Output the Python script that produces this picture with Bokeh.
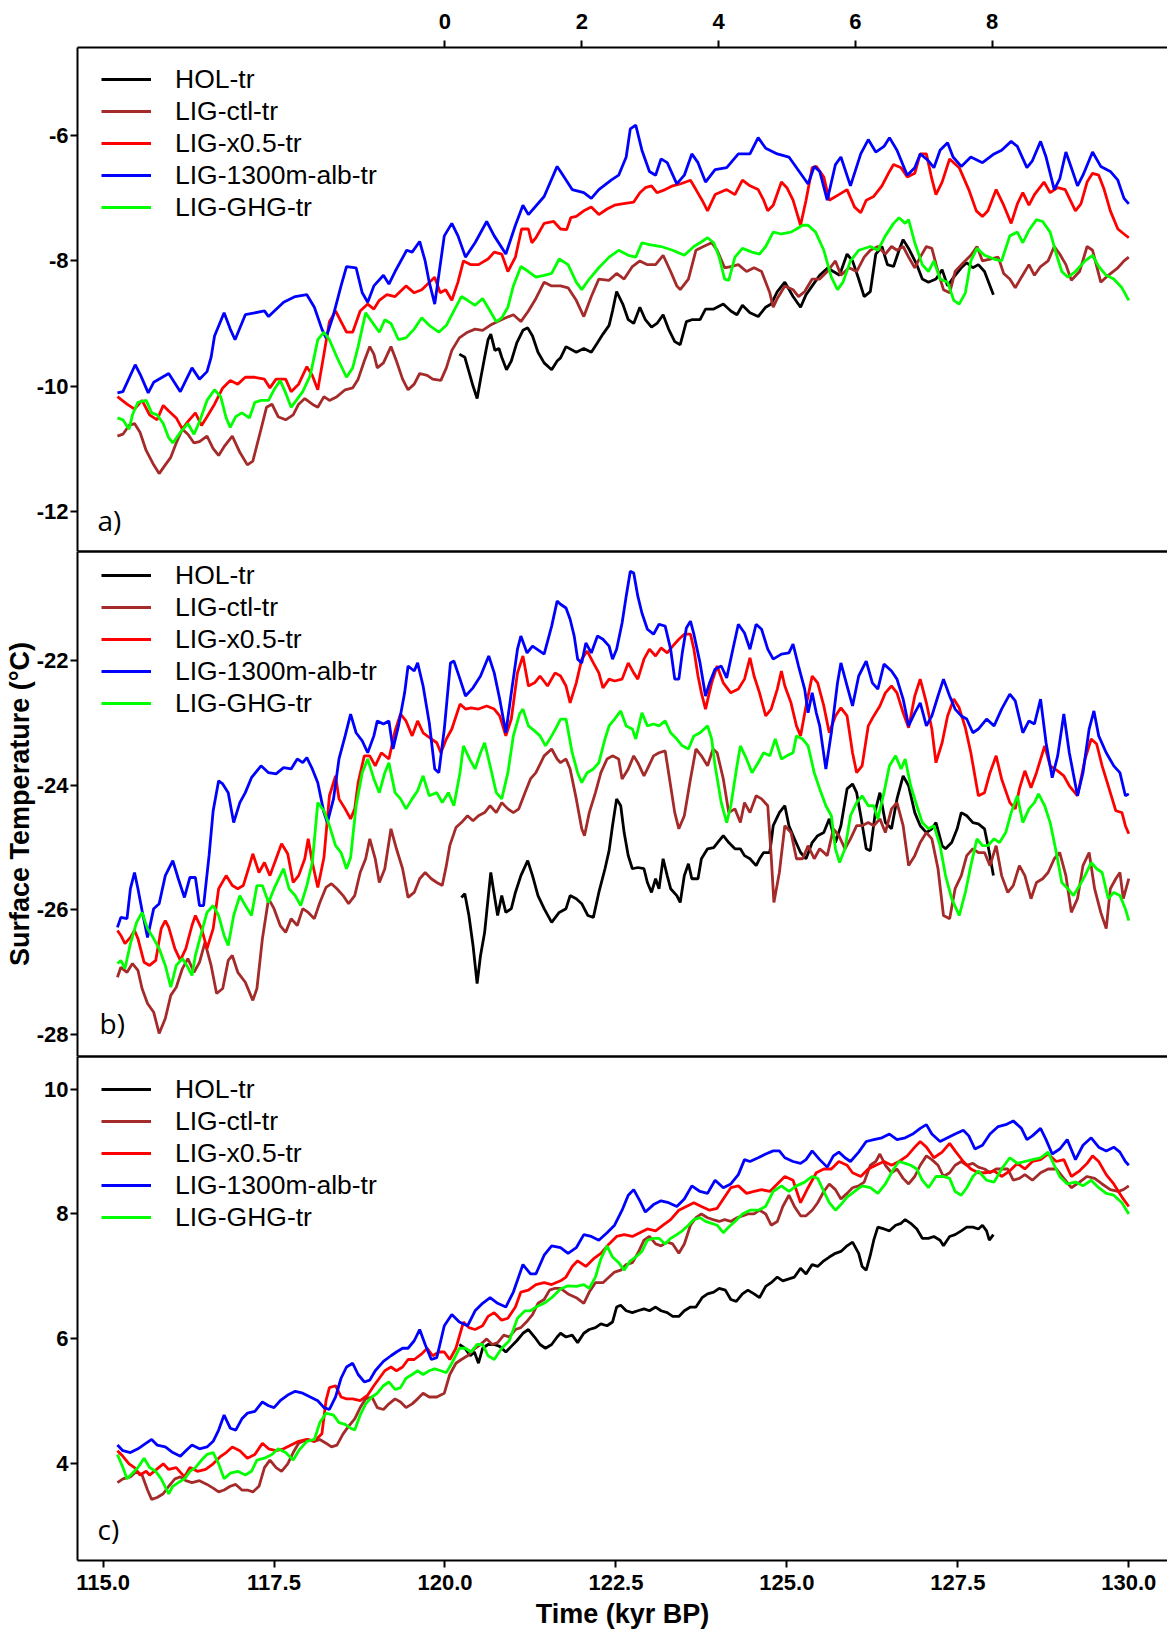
from bokeh.plotting import figure
from bokeh.models import (Range1d, LinearAxis, FixedTicker, PrintfTickFormatter,
                          Legend, LegendItem, Label, Grid)
from bokeh.layouts import column
from bokeh.embed import file_html
from bokeh.resources import INLINE

# ---------------- labels / ticks ----------------
series_names = ["HOL-tr", "LIG-ctl-tr", "LIG-x0.5-tr", "LIG-1300m-alb-tr", "LIG-GHG-tr"]
series_colors = ["#000000", "#a52a2a", "#ff0000", "#0000ff", "#00ff00"]
x_ticks = [115.0, 117.5, 120.0, 122.5, 125.0, 127.5, 130.0]
hol_ticks = [0, 2, 4, 6, 8]
HOL_OFFSET = 120.0   # top (HOL) time axis = LIG time - 120 kyr
a_yticks = [-12, -10, -8, -6]
b_yticks = [-28, -26, -24, -22]
c_yticks = [4, 6, 8, 10]
x_title = "Time (kyr BP)"
y_title = "Surface Temperature (°C)"

# ---------------- panel a ----------------
a_hol = [(0.21,-9.49),(0.29,-9.54),(0.35,-9.77),(0.41,-10.00),(0.47,-10.20),(0.52,-9.89),(0.58,-9.54),(0.63,-9.26),(0.67,-9.17),(0.73,-9.43),(0.79,-9.40),(0.83,-9.54),(0.90,-9.74),(0.97,-9.60),(1.05,-9.31),(1.14,-9.11),(1.21,-9.07),(1.28,-9.20),(1.36,-9.46),(1.45,-9.63),(1.56,-9.74),(1.64,-9.60),(1.69,-9.55),(1.77,-9.37),(1.92,-9.46),(2.03,-9.40),(2.14,-9.46),(2.23,-9.31),(2.31,-9.17),(2.40,-9.03),(2.45,-8.80),(2.51,-8.49),(2.60,-8.69),(2.68,-8.94),(2.76,-9.00),(2.85,-8.74),(2.93,-8.94),(3.02,-9.06),(3.10,-9.00),(3.19,-8.86),(3.27,-9.09),(3.36,-9.29),(3.44,-9.34),(3.53,-8.97),(3.61,-8.94),(3.73,-8.94),(3.81,-8.77),(3.93,-8.77),(4.07,-8.69),(4.18,-8.80),(4.27,-8.86),(4.35,-8.71),(4.46,-8.83),(4.58,-8.89),(4.69,-8.74),(4.77,-8.69),(4.86,-8.49),(4.97,-8.34),(5.09,-8.57),(5.20,-8.74),(5.28,-8.54),(5.37,-8.40),(5.48,-8.23),(5.60,-8.11),(5.68,-8.17),(5.77,-8.23),(5.88,-7.89),(5.96,-8.00),(6.05,-8.29),(6.13,-8.57),(6.22,-8.49),(6.30,-7.89),(6.39,-7.77),(6.47,-8.06),(6.56,-8.09),(6.64,-7.83),(6.70,-7.66),(6.78,-7.80),(6.90,-8.06),(6.98,-8.29),(7.07,-8.34),(7.18,-8.29),(7.27,-8.14),(7.35,-8.40),(7.44,-8.26),(7.55,-8.11),(7.63,-8.03),(7.72,-8.11),(7.80,-8.06),(7.89,-8.17),(7.95,-8.34),(8.02,-8.54)]

a_ctl = [(115.21,-10.80),(115.29,-10.77),(115.38,-10.63),(115.46,-10.60),(115.54,-10.74),(115.63,-11.03),(115.74,-11.26),(115.82,-11.40),(115.91,-11.26),(115.99,-11.14),(116.07,-10.91),(116.16,-10.69),(116.24,-10.77),(116.33,-10.91),(116.41,-10.89),(116.52,-10.80),(116.61,-11.00),(116.69,-11.11),(116.77,-10.97),(116.89,-10.80),(117.00,-11.06),(117.11,-11.26),(117.19,-11.20),(117.31,-10.69),(117.39,-10.34),(117.47,-10.29),(117.56,-10.49),(117.67,-10.54),(117.78,-10.46),(117.86,-10.29),(117.95,-10.20),(118.06,-10.29),(118.14,-10.34),(118.23,-10.17),(118.31,-10.23),(118.42,-10.17),(118.54,-10.06),(118.65,-10.03),(118.73,-9.89),(118.82,-9.60),(118.90,-9.37),(118.96,-9.49),(119.01,-9.71),(119.10,-9.63),(119.21,-9.37),(119.29,-9.60),(119.38,-9.89),(119.46,-10.06),(119.55,-9.97),(119.63,-9.80),(119.74,-9.83),(119.82,-9.89),(119.94,-9.91),(120.02,-9.71),(120.10,-9.43),(120.21,-9.23),(120.33,-9.14),(120.44,-9.09),(120.55,-9.11),(120.66,-9.03),(120.77,-8.97),(120.89,-8.91),(121.00,-8.86),(121.11,-8.97),(121.22,-8.80),(121.33,-8.60),(121.45,-8.34),(121.56,-8.40),(121.69,-8.40),(121.80,-8.43),(121.92,-8.63),(122.03,-8.89),(122.14,-8.57),(122.25,-8.29),(122.40,-8.31),(122.51,-8.20),(122.62,-8.29),(122.74,-8.09),(122.85,-8.00),(122.96,-8.06),(123.08,-8.06),(123.19,-7.91),(123.30,-8.17),(123.39,-8.40),(123.44,-8.46),(123.56,-8.29),(123.67,-7.83),(123.78,-7.77),(123.90,-7.71),(123.98,-7.83),(124.09,-8.11),(124.18,-8.09),(124.29,-8.06),(124.41,-8.17),(124.52,-8.11),(124.63,-8.17),(124.75,-8.51),(124.80,-8.74),(124.86,-8.60),(124.97,-8.40),(125.09,-8.46),(125.17,-8.57),(125.26,-8.49),(125.37,-8.29),(125.48,-8.29),(125.59,-8.17),(125.71,-8.00),(125.79,-8.23),(125.91,-8.11),(126.02,-8.17),(126.13,-7.94),(126.22,-7.83),(126.33,-7.77),(126.44,-7.89),(126.53,-7.77),(126.61,-7.83),(126.70,-7.77),(126.78,-7.94),(126.87,-8.11),(126.95,-7.94),(127.04,-7.77),(127.12,-7.80),(127.21,-8.17),(127.29,-8.46),(127.38,-8.51),(127.46,-8.17),(127.58,-8.03),(127.69,-7.91),(127.78,-7.77),(127.86,-8.00),(127.97,-7.97),(128.09,-7.94),(128.17,-8.20),(128.26,-8.29),(128.34,-8.43),(128.43,-8.26),(128.54,-8.06),(128.62,-8.23),(128.71,-8.09),(128.82,-8.00),(128.91,-7.77),(128.99,-7.89),(129.08,-8.06),(129.16,-8.31),(129.28,-8.17),(129.39,-7.77),(129.47,-7.83),(129.59,-8.34),(129.70,-8.23),(129.84,-8.11),(129.93,-8.00),(130.00,-7.94)]

a_x05 = [(115.21,-10.17),(115.35,-10.29),(115.46,-10.37),(115.57,-10.23),(115.68,-10.46),(115.79,-10.54),(115.88,-10.31),(115.96,-10.40),(116.07,-10.51),(116.16,-10.69),(116.24,-10.57),(116.35,-10.43),(116.44,-10.63),(116.52,-10.49),(116.63,-10.29),(116.75,-10.03),(116.86,-9.91),(116.97,-9.97),(117.08,-9.86),(117.22,-9.86),(117.36,-9.89),(117.44,-10.03),(117.53,-9.89),(117.67,-9.89),(117.75,-10.09),(117.86,-9.97),(117.98,-9.69),(118.06,-9.83),(118.14,-10.06),(118.23,-9.49),(118.31,-8.97),(118.40,-8.80),(118.48,-8.97),(118.56,-9.14),(118.65,-9.14),(118.76,-8.80),(118.87,-8.69),(118.96,-8.77),(119.04,-8.63),(119.15,-8.54),(119.27,-8.57),(119.43,-8.40),(119.55,-8.51),(119.66,-8.46),(119.85,-8.26),(119.93,-8.51),(120.01,-8.46),(120.10,-8.63),(120.19,-8.34),(120.27,-8.00),(120.38,-8.06),(120.49,-8.06),(120.63,-7.97),(120.72,-7.86),(120.83,-7.89),(120.92,-8.17),(121.03,-7.94),(121.12,-7.49),(121.22,-7.49),(121.27,-7.71),(121.33,-7.63),(121.45,-7.40),(121.59,-7.37),(121.69,-7.49),(121.78,-7.50),(121.84,-7.31),(121.92,-7.29),(122.03,-7.20),(122.14,-7.14),(122.25,-7.26),(122.37,-7.17),(122.48,-7.11),(122.59,-7.09),(122.76,-7.06),(122.85,-6.91),(122.93,-6.83),(123.02,-6.80),(123.10,-6.91),(123.22,-6.86),(123.33,-6.80),(123.44,-6.77),(123.59,-6.71),(123.67,-6.86),(123.76,-7.03),(123.84,-7.20),(123.95,-6.94),(124.12,-6.86),(124.24,-6.94),(124.35,-6.71),(124.46,-6.80),(124.58,-6.86),(124.66,-7.03),(124.72,-7.20),(124.80,-7.11),(124.92,-6.74),(125.00,-6.83),(125.09,-7.03),(125.20,-7.43),(125.28,-7.03),(125.37,-6.51),(125.43,-6.49),(125.54,-6.66),(125.62,-7.03),(125.76,-6.94),(125.88,-6.86),(125.99,-7.14),(126.08,-7.23),(126.16,-7.03),(126.27,-6.97),(126.39,-6.80),(126.50,-6.57),(126.56,-6.46),(126.67,-6.51),(126.76,-6.66),(126.87,-6.60),(126.95,-6.29),(127.04,-6.29),(127.12,-6.69),(127.18,-6.94),(127.27,-6.74),(127.38,-6.37),(127.52,-6.51),(127.66,-6.86),(127.77,-7.20),(127.86,-7.29),(127.94,-7.20),(128.06,-6.86),(128.17,-7.11),(128.28,-7.40),(128.37,-7.09),(128.45,-6.91),(128.54,-7.11),(128.62,-6.94),(128.76,-6.74),(128.85,-6.91),(128.96,-6.83),(129.07,-6.86),(129.22,-7.20),(129.30,-7.09),(129.39,-6.74),(129.47,-6.60),(129.56,-6.63),(129.64,-6.86),(129.73,-7.20),(129.84,-7.49),(129.93,-7.57),(130.00,-7.63)]

a_alb = [(115.21,-10.11),(115.29,-10.09),(115.47,-9.66),(115.55,-9.83),(115.66,-10.11),(115.74,-9.94),(115.96,-9.80),(116.13,-10.09),(116.30,-9.71),(116.41,-9.89),(116.52,-9.77),(116.58,-9.54),(116.63,-9.20),(116.77,-8.83),(116.86,-9.09),(116.93,-9.26),(117.08,-8.86),(117.36,-8.80),(117.42,-8.89),(117.64,-8.66),(117.81,-8.57),(117.98,-8.54),(118.09,-8.74),(118.20,-9.09),(118.26,-9.23),(118.37,-8.86),(118.48,-8.40),(118.56,-8.09),(118.70,-8.11),(118.79,-8.51),(118.87,-8.66),(118.96,-8.40),(119.10,-8.23),(119.18,-8.37),(119.27,-8.17),(119.44,-7.83),(119.52,-7.86),(119.63,-7.69),(119.71,-8.00),(119.77,-8.34),(119.85,-8.69),(119.99,-7.60),(120.10,-7.40),(120.19,-7.60),(120.30,-7.94),(120.44,-7.71),(120.61,-7.37),(120.72,-7.60),(120.89,-7.89),(121.03,-7.43),(121.14,-7.11),(121.22,-7.26),(121.45,-6.97),(121.64,-6.49),(121.69,-6.57),(121.86,-6.86),(122.03,-6.91),(122.14,-7.00),(122.25,-6.86),(122.43,-6.71),(122.54,-6.63),(122.65,-6.34),(122.71,-5.89),(122.79,-5.83),(122.88,-6.23),(122.99,-6.57),(123.08,-6.63),(123.16,-6.37),(123.25,-6.43),(123.39,-6.77),(123.50,-6.63),(123.61,-6.29),(123.70,-6.43),(123.81,-6.74),(123.95,-6.54),(124.12,-6.51),(124.29,-6.29),(124.46,-6.29),(124.58,-6.03),(124.69,-6.20),(124.86,-6.29),(125.03,-6.34),(125.31,-6.77),(125.40,-6.49),(125.48,-6.57),(125.59,-7.03),(125.71,-6.46),(125.79,-6.34),(125.93,-6.80),(126.08,-6.29),(126.19,-6.06),(126.30,-6.26),(126.42,-6.17),(126.50,-6.03),(126.61,-6.23),(126.76,-6.63),(126.87,-6.51),(126.95,-6.29),(127.07,-6.40),(127.15,-6.51),(127.24,-6.23),(127.35,-6.11),(127.43,-6.34),(127.55,-6.49),(127.69,-6.34),(127.86,-6.43),(128.03,-6.29),(128.14,-6.23),(128.28,-6.09),(128.37,-6.17),(128.51,-6.51),(128.59,-6.40),(128.71,-6.09),(128.79,-6.34),(128.91,-6.86),(128.99,-6.69),(129.08,-6.26),(129.16,-6.51),(129.25,-6.80),(129.33,-6.63),(129.47,-6.26),(129.59,-6.49),(129.73,-6.57),(129.84,-6.71),(129.93,-7.00),(130.00,-7.09)]

a_ghg = [(115.21,-10.51),(115.29,-10.54),(115.38,-10.69),(115.43,-10.46),(115.51,-10.26),(115.63,-10.23),(115.71,-10.43),(115.79,-10.46),(115.88,-10.60),(115.96,-10.83),(116.02,-10.91),(116.13,-10.74),(116.24,-10.60),(116.33,-10.77),(116.41,-10.57),(116.52,-10.23),(116.63,-10.06),(116.72,-10.17),(116.80,-10.51),(116.86,-10.66),(116.94,-10.49),(117.03,-10.43),(117.14,-10.51),(117.22,-10.26),(117.31,-10.23),(117.42,-10.23),(117.50,-10.06),(117.59,-9.91),(117.67,-10.11),(117.75,-10.34),(117.92,-10.09),(118.03,-9.83),(118.14,-9.26),(118.23,-9.14),(118.31,-9.26),(118.42,-9.54),(118.56,-9.86),(118.65,-9.71),(118.73,-9.37),(118.84,-8.83),(118.93,-8.97),(119.04,-9.14),(119.12,-8.94),(119.21,-9.00),(119.32,-9.26),(119.43,-9.23),(119.55,-9.09),(119.66,-8.91),(119.77,-9.03),(119.91,-9.14),(120.02,-9.03),(120.13,-8.80),(120.24,-8.57),(120.33,-8.63),(120.44,-8.71),(120.55,-8.60),(120.66,-8.80),(120.75,-8.97),(120.83,-8.91),(120.92,-8.74),(121.00,-8.40),(121.11,-8.09),(121.22,-8.17),(121.33,-8.26),(121.45,-8.23),(121.56,-8.20),(121.67,-7.97),(121.80,-8.06),(121.92,-8.34),(122.00,-8.46),(122.11,-8.29),(122.25,-8.11),(122.40,-7.94),(122.54,-7.83),(122.68,-7.91),(122.79,-7.94),(122.88,-7.71),(122.99,-7.74),(123.16,-7.77),(123.33,-7.83),(123.50,-7.91),(123.64,-7.77),(123.73,-7.71),(123.84,-7.63),(123.93,-7.71),(124.01,-7.94),(124.09,-8.29),(124.15,-8.31),(124.24,-7.94),(124.35,-7.80),(124.49,-7.86),(124.60,-7.89),(124.69,-7.77),(124.80,-7.54),(124.92,-7.57),(125.06,-7.54),(125.14,-7.49),(125.23,-7.43),(125.31,-7.43),(125.42,-7.54),(125.54,-7.83),(125.65,-8.26),(125.74,-8.46),(125.82,-8.34),(125.93,-8.00),(126.05,-7.83),(126.22,-7.77),(126.33,-7.83),(126.44,-7.60),(126.56,-7.40),(126.64,-7.31),(126.73,-7.40),(126.78,-7.34),(126.87,-7.71),(126.98,-8.06),(127.07,-8.17),(127.15,-8.00),(127.24,-8.29),(127.35,-8.34),(127.44,-8.63),(127.52,-8.69),(127.61,-8.51),(127.69,-8.00),(127.78,-7.80),(127.89,-7.91),(128.03,-7.97),(128.14,-8.00),(128.26,-7.60),(128.37,-7.54),(128.45,-7.71),(128.54,-7.51),(128.65,-7.34),(128.74,-7.37),(128.85,-7.54),(128.94,-7.89),(129.02,-8.17),(129.11,-8.26),(129.22,-8.17),(129.36,-8.00),(129.47,-7.91),(129.56,-8.09),(129.67,-8.23),(129.78,-8.29),(129.90,-8.43),(130.00,-8.63)]

# ---------------- panel b ----------------
b_hol = [(0.24,-25.80),(0.29,-25.74),(0.35,-26.09),(0.41,-26.57),(0.47,-27.18),(0.52,-26.73),(0.58,-26.36),(0.63,-25.82),(0.67,-25.40),(0.73,-25.82),(0.77,-26.09),(0.83,-25.77),(0.89,-26.04),(0.97,-25.98),(1.03,-25.72),(1.11,-25.45),(1.21,-25.21),(1.28,-25.45),(1.36,-25.77),(1.45,-25.98),(1.56,-26.20),(1.67,-26.04),(1.77,-25.98),(1.83,-25.77),(1.92,-25.82),(2.00,-25.90),(2.09,-26.09),(2.17,-26.12),(2.25,-25.72),(2.34,-25.34),(2.40,-25.05),(2.45,-24.65),(2.51,-24.22),(2.57,-24.33),(2.62,-24.76),(2.68,-25.13),(2.74,-25.34),(2.82,-25.32),(2.91,-25.34),(2.96,-25.56),(3.02,-25.72),(3.08,-25.50),(3.13,-25.66),(3.19,-25.18),(3.25,-25.45),(3.30,-25.66),(3.39,-25.77),(3.44,-25.88),(3.50,-25.45),(3.56,-25.26),(3.61,-25.50),(3.70,-25.50),(3.75,-25.18),(3.84,-25.02),(3.93,-25.00),(4.01,-24.89),(4.07,-24.81),(4.15,-24.92),(4.24,-25.02),(4.32,-25.02),(4.38,-25.13),(4.46,-25.18),(4.55,-25.29),(4.60,-25.18),(4.66,-25.08),(4.75,-25.08),(4.80,-24.65),(4.89,-24.44),(4.97,-24.33),(5.03,-24.65),(5.11,-24.86),(5.20,-25.08),(5.28,-25.18),(5.37,-24.92),(5.45,-24.81),(5.54,-24.76),(5.62,-24.54),(5.71,-24.92),(5.79,-24.65),(5.88,-24.06),(5.96,-23.98),(6.02,-24.12),(6.08,-24.49),(6.16,-25.02),(6.22,-25.05),(6.30,-24.38),(6.36,-24.12),(6.44,-24.60),(6.53,-24.70),(6.61,-24.22),(6.70,-23.85),(6.78,-24.01),(6.87,-24.44),(6.95,-24.65),(7.04,-24.76),(7.12,-24.70),(7.18,-24.60),(7.27,-24.97),(7.32,-25.02),(7.41,-24.92),(7.49,-24.70),(7.55,-24.44),(7.63,-24.49),(7.72,-24.60),(7.80,-24.62),(7.89,-24.70),(7.95,-25.02),(8.02,-25.45)]

b_ctl = [(115.21,-27.08),(115.26,-26.92),(115.35,-27.00),(115.43,-26.86),(115.51,-26.97),(115.57,-27.26),(115.65,-27.50),(115.74,-27.64),(115.82,-27.98),(115.91,-27.74),(115.99,-27.37),(116.07,-27.24),(116.16,-26.94),(116.24,-26.78),(116.33,-27.00),(116.41,-26.84),(116.49,-26.52),(116.58,-26.89),(116.66,-27.34),(116.75,-27.26),(116.83,-26.81),(116.89,-26.73),(116.97,-27.00),(117.08,-27.16),(117.19,-27.45),(117.25,-27.26),(117.33,-26.46),(117.42,-25.82),(117.50,-25.98),(117.59,-26.25),(117.67,-26.36),(117.75,-26.14),(117.84,-26.25),(117.92,-25.98),(118.00,-26.04),(118.09,-26.14),(118.17,-25.88),(118.26,-25.64),(118.34,-25.58),(118.42,-25.66),(118.51,-25.77),(118.59,-25.90),(118.68,-25.77),(118.76,-25.40),(118.84,-25.18),(118.90,-24.86),(118.98,-25.18),(119.04,-25.56),(119.12,-25.34),(119.21,-24.70),(119.29,-25.02),(119.38,-25.34),(119.46,-25.80),(119.55,-25.72),(119.63,-25.50),(119.71,-25.40),(119.80,-25.50),(119.88,-25.56),(119.96,-25.61),(120.02,-25.29),(120.07,-24.97),(120.16,-24.68),(120.24,-24.60),(120.33,-24.49),(120.41,-24.57),(120.49,-24.49),(120.58,-24.44),(120.66,-24.33),(120.75,-24.44),(120.83,-24.28),(120.92,-24.38),(121.00,-24.44),(121.08,-24.38),(121.17,-24.12),(121.25,-23.90),(121.33,-23.80),(121.45,-23.53),(121.56,-23.42),(121.64,-23.58),(121.69,-23.64),(121.77,-23.58),(121.83,-23.74),(121.92,-24.22),(122.00,-24.70),(122.04,-24.81),(122.11,-24.44),(122.20,-24.12),(122.28,-23.80),(122.37,-23.58),(122.45,-23.53),(122.54,-23.58),(122.59,-23.90),(122.68,-23.74),(122.76,-23.53),(122.82,-23.64),(122.91,-23.85),(122.96,-23.74),(123.05,-23.53),(123.13,-23.48),(123.22,-23.45),(123.27,-23.80),(123.36,-24.44),(123.42,-24.70),(123.50,-24.49),(123.59,-23.90),(123.67,-23.42),(123.75,-23.53),(123.84,-23.69),(123.92,-23.42),(123.98,-23.48),(124.07,-23.90),(124.15,-24.44),(124.24,-24.38),(124.32,-24.60),(124.38,-24.28),(124.46,-24.44),(124.55,-24.17),(124.63,-24.22),(124.72,-24.33),(124.77,-25.13),(124.81,-25.88),(124.89,-25.40),(124.97,-24.65),(125.06,-24.76),(125.14,-25.18),(125.23,-25.18),(125.31,-24.97),(125.40,-25.18),(125.48,-25.02),(125.59,-25.13),(125.68,-24.70),(125.76,-24.81),(125.85,-25.02),(125.93,-24.86),(126.02,-24.65),(126.10,-24.65),(126.19,-24.60),(126.27,-24.65),(126.36,-24.54),(126.44,-24.76),(126.53,-24.38),(126.61,-24.28),(126.70,-24.65),(126.78,-25.29),(126.87,-25.13),(126.95,-24.92),(127.04,-24.76),(127.12,-24.86),(127.21,-25.34),(127.29,-26.09),(127.38,-26.14),(127.46,-25.66),(127.55,-25.45),(127.63,-25.13),(127.72,-25.02),(127.80,-25.08),(127.89,-25.08),(127.97,-25.29),(128.06,-24.97),(128.14,-25.45),(128.23,-25.72),(128.31,-25.61),(128.40,-25.29),(128.48,-25.45),(128.57,-25.82),(128.65,-25.56),(128.74,-25.50),(128.82,-25.40),(128.91,-25.18),(128.99,-25.08),(129.08,-25.45),(129.16,-26.04),(129.25,-25.82),(129.33,-25.29),(129.42,-25.08),(129.50,-25.66),(129.59,-26.04),(129.67,-26.30),(129.73,-25.66),(129.81,-25.50),(129.87,-25.40),(129.92,-25.82),(130.00,-25.50)]

b_x05 = [(115.21,-26.33),(115.26,-26.41),(115.32,-26.54),(115.40,-26.44),(115.46,-26.33),(115.51,-26.46),(115.60,-26.84),(115.68,-26.89),(115.77,-26.81),(115.85,-26.30),(115.91,-26.17),(115.96,-26.28),(116.05,-26.62),(116.13,-26.81),(116.21,-26.62),(116.30,-26.25),(116.35,-26.09),(116.44,-26.30),(116.52,-26.62),(116.61,-26.30),(116.69,-25.66),(116.80,-25.45),(116.89,-25.61),(116.97,-25.66),(117.05,-25.61),(117.14,-25.29),(117.19,-25.10),(117.28,-25.40),(117.36,-25.24),(117.44,-25.45),(117.53,-25.18),(117.61,-24.94),(117.70,-25.10),(117.78,-25.56),(117.86,-25.45),(117.95,-25.18),(118.00,-24.86),(118.06,-25.24),(118.14,-25.64),(118.23,-25.16),(118.31,-24.17),(118.40,-23.85),(118.45,-24.22),(118.54,-24.38),(118.62,-24.54),(118.68,-24.38),(118.73,-23.96),(118.82,-23.53),(118.90,-23.53),(118.98,-23.69),(119.07,-23.48),(119.18,-23.58),(119.27,-23.13),(119.35,-22.86),(119.43,-22.97),(119.52,-23.21),(119.60,-22.97),(119.68,-23.16),(119.80,-23.26),(119.88,-23.32),(119.94,-23.48),(120.02,-23.26),(120.10,-23.10),(120.22,-22.70),(120.30,-22.78),(120.38,-22.76),(120.49,-22.78),(120.61,-22.73),(120.72,-22.78),(120.80,-22.89),(120.89,-23.21),(120.97,-22.94),(121.06,-22.20),(121.14,-21.93),(121.22,-22.41),(121.31,-22.36),(121.39,-22.25),(121.50,-22.41),(121.61,-22.20),(121.69,-22.25),(121.77,-22.41),(121.83,-22.68),(121.92,-22.36),(122.00,-21.98),(122.08,-21.85),(122.17,-22.04),(122.25,-22.20),(122.31,-22.44),(122.40,-22.30),(122.48,-22.33),(122.59,-22.30),(122.68,-22.04),(122.76,-22.20),(122.82,-22.30),(122.91,-21.98),(122.99,-21.82),(123.08,-21.93),(123.16,-21.80),(123.25,-21.88),(123.33,-21.77),(123.42,-21.66),(123.50,-21.58),(123.59,-21.58),(123.64,-21.82),(123.70,-22.25),(123.75,-22.52),(123.81,-22.78),(123.90,-22.36),(123.98,-22.09),(124.07,-22.36),(124.18,-22.52),(124.29,-22.46),(124.38,-22.30),(124.46,-21.96),(124.52,-22.25),(124.60,-22.52),(124.69,-22.89),(124.77,-22.78),(124.86,-22.46),(124.92,-22.17),(124.97,-22.41),(125.06,-22.68),(125.14,-23.05),(125.20,-23.21),(125.28,-22.73),(125.37,-22.25),(125.45,-22.36),(125.54,-22.73),(125.62,-23.16),(125.71,-22.89),(125.79,-22.76),(125.88,-22.89),(125.96,-23.48),(126.02,-23.80),(126.10,-23.69),(126.19,-23.05),(126.27,-22.89),(126.36,-22.73),(126.44,-22.52),(126.53,-22.41),(126.61,-22.52),(126.70,-22.84),(126.78,-23.08),(126.87,-22.57),(126.95,-22.30),(127.04,-22.68),(127.12,-23.10),(127.18,-23.64),(127.27,-23.32),(127.35,-22.89),(127.44,-22.62),(127.52,-22.76),(127.61,-23.08),(127.69,-23.48),(127.80,-24.17),(127.89,-24.12),(127.97,-23.80),(128.06,-23.53),(128.14,-23.90),(128.26,-24.28),(128.34,-24.38),(128.40,-24.06),(128.48,-23.77),(128.57,-24.04),(128.65,-23.80),(128.77,-23.37),(128.85,-23.69),(128.96,-23.77),(129.05,-23.85),(129.13,-24.01),(129.25,-24.17),(129.36,-23.58),(129.45,-23.26),(129.53,-23.34),(129.61,-23.69),(129.73,-24.12),(129.81,-24.41),(129.90,-24.44),(129.95,-24.65),(130.00,-24.78)]

b_alb = [(115.21,-26.28),(115.26,-26.12),(115.35,-26.14),(115.40,-25.66),(115.46,-25.40),(115.51,-25.66),(115.57,-26.01),(115.65,-26.44),(115.74,-25.98),(115.82,-25.90),(115.91,-25.45),(116.02,-25.21),(116.10,-25.50),(116.19,-25.80),(116.27,-25.48),(116.35,-25.48),(116.41,-25.93),(116.47,-25.93),(116.55,-25.13),(116.61,-24.41),(116.69,-23.93),(116.75,-23.98),(116.83,-24.12),(116.91,-24.60),(117.00,-24.28),(117.08,-24.12),(117.17,-23.88),(117.31,-23.69),(117.42,-23.80),(117.53,-23.82),(117.64,-23.72),(117.75,-23.74),(117.84,-23.58),(117.92,-23.64),(117.98,-23.56),(118.06,-23.74),(118.14,-23.96),(118.23,-24.44),(118.28,-24.60),(118.37,-24.22),(118.45,-23.58),(118.54,-23.21),(118.62,-22.86),(118.70,-23.16),(118.79,-23.29),(118.87,-23.48),(118.96,-23.21),(119.01,-22.97),(119.10,-23.02),(119.18,-22.97),(119.24,-23.42),(119.32,-23.05),(119.41,-22.52),(119.46,-22.09),(119.55,-22.17),(119.60,-22.04),(119.68,-22.41),(119.77,-23.00),(119.85,-23.74),(119.91,-23.80),(119.99,-23.10),(120.08,-22.04),(120.13,-22.01),(120.22,-22.30),(120.30,-22.57),(120.41,-22.44),(120.52,-22.25),(120.64,-21.93),(120.72,-22.20),(120.80,-22.62),(120.89,-23.16),(120.97,-22.52),(121.06,-21.82),(121.11,-21.61),(121.20,-21.88),(121.28,-21.77),(121.45,-21.90),(121.56,-21.45),(121.64,-21.05),(121.69,-21.10),(121.77,-21.16),(121.83,-21.34),(121.89,-21.61),(121.94,-21.98),(122.00,-22.04),(122.06,-21.72),(122.14,-21.88),(122.23,-21.61),(122.31,-21.66),(122.40,-21.77),(122.45,-21.98),(122.51,-21.82),(122.59,-21.40),(122.65,-20.97),(122.71,-20.57),(122.76,-20.60),(122.82,-20.97),(122.88,-21.24),(122.96,-21.50),(123.05,-21.58),(123.13,-21.42),(123.22,-21.45),(123.30,-21.82),(123.36,-22.30),(123.42,-22.30),(123.47,-21.88),(123.53,-21.48),(123.59,-21.37),(123.64,-21.58),(123.73,-22.04),(123.81,-22.57),(123.87,-22.36),(123.95,-22.14),(124.04,-22.09),(124.12,-22.28),(124.21,-21.82),(124.29,-21.42),(124.38,-21.56),(124.46,-21.82),(124.55,-21.42),(124.63,-21.50),(124.72,-21.82),(124.80,-21.98),(124.92,-21.90),(125.03,-21.88),(125.09,-21.74),(125.17,-22.09),(125.26,-22.46),(125.31,-22.84),(125.37,-22.52),(125.43,-22.84),(125.48,-23.05),(125.57,-23.74),(125.65,-23.16),(125.74,-22.36),(125.79,-22.04),(125.88,-22.41),(125.96,-22.73),(126.05,-22.25),(126.16,-22.01),(126.25,-22.36),(126.33,-22.46),(126.42,-22.06),(126.53,-22.17),(126.61,-22.30),(126.70,-22.62),(126.78,-23.05),(126.87,-22.84),(126.95,-22.68),(127.04,-23.05),(127.12,-22.89),(127.21,-22.57),(127.29,-22.30),(127.38,-22.57),(127.46,-22.78),(127.55,-22.89),(127.63,-22.94),(127.72,-23.16),(127.80,-23.10),(127.92,-22.94),(128.03,-23.05),(128.14,-22.78),(128.26,-22.54),(128.34,-22.65),(128.45,-23.16),(128.54,-22.97),(128.62,-23.02),(128.71,-22.62),(128.79,-23.32),(128.88,-23.88),(128.96,-23.53),(129.05,-22.86),(129.13,-23.48),(129.25,-24.17),(129.33,-23.80),(129.42,-23.10),(129.49,-22.81),(129.56,-23.21),(129.67,-23.48),(129.78,-23.69),(129.87,-23.80),(129.95,-24.17),(130.00,-24.14)]

b_ghg = [(115.21,-26.86),(115.26,-26.81),(115.32,-26.94),(115.40,-26.54),(115.49,-26.20),(115.57,-26.04),(115.65,-26.30),(115.74,-26.46),(115.82,-26.62),(115.91,-26.89),(115.99,-27.24),(116.07,-26.89),(116.16,-26.78),(116.24,-26.92),(116.30,-27.05),(116.35,-26.73),(116.44,-26.36),(116.52,-26.04),(116.61,-25.93),(116.69,-26.09),(116.77,-26.41),(116.83,-26.57),(116.91,-26.09),(117.00,-25.77),(117.08,-25.93),(117.17,-26.09),(117.25,-25.61),(117.33,-25.61),(117.42,-25.88),(117.50,-25.66),(117.59,-25.45),(117.64,-25.34),(117.72,-25.66),(117.81,-25.77),(117.89,-25.93),(117.98,-25.61),(118.06,-25.24),(118.14,-24.28),(118.23,-24.41),(118.31,-24.65),(118.40,-24.97),(118.48,-25.08),(118.56,-25.34),(118.62,-25.16),(118.70,-24.33),(118.79,-23.80),(118.87,-23.58),(118.96,-23.90),(119.04,-24.12),(119.12,-23.80),(119.18,-23.64),(119.27,-24.12),(119.35,-24.22),(119.43,-24.38),(119.52,-24.22),(119.60,-24.09),(119.68,-23.85),(119.77,-24.17),(119.88,-24.12),(119.96,-24.28),(120.05,-24.12),(120.13,-24.33),(120.22,-23.80),(120.27,-23.37),(120.36,-23.58),(120.44,-23.74),(120.52,-23.48),(120.58,-23.32),(120.66,-23.69),(120.75,-24.12),(120.83,-24.22),(120.92,-23.80),(121.00,-23.21),(121.09,-22.86),(121.14,-22.78),(121.22,-23.05),(121.31,-23.13),(121.39,-23.21),(121.47,-23.37),(121.56,-23.21),(121.64,-23.05),(121.69,-22.94),(121.77,-22.94),(121.86,-23.48),(121.94,-23.80),(122.00,-23.96),(122.08,-23.80),(122.17,-23.74),(122.25,-23.64),(122.34,-23.26),(122.40,-23.05),(122.48,-22.94),(122.57,-22.81),(122.65,-23.05),(122.74,-23.10),(122.79,-23.26),(122.88,-22.84),(122.96,-23.05),(123.05,-23.02),(123.13,-23.05),(123.22,-22.97),(123.30,-23.16),(123.39,-23.26),(123.47,-23.37),(123.56,-23.42),(123.64,-23.21),(123.73,-23.16),(123.84,-23.05),(123.90,-23.26),(123.95,-23.69),(124.04,-24.28),(124.12,-24.60),(124.18,-24.33),(124.27,-23.69),(124.32,-23.37),(124.41,-23.58),(124.49,-23.80),(124.58,-23.64),(124.66,-23.48),(124.75,-23.53),(124.83,-23.26),(124.92,-23.58),(125.00,-23.53),(125.09,-23.48),(125.14,-23.21),(125.23,-23.26),(125.31,-23.37),(125.40,-23.80),(125.48,-24.06),(125.57,-24.33),(125.65,-24.49),(125.71,-25.02),(125.77,-25.24),(125.85,-25.02),(125.93,-24.49),(126.02,-24.28),(126.10,-24.17),(126.19,-24.33),(126.27,-24.33),(126.33,-24.54),(126.42,-24.12),(126.50,-23.69),(126.59,-23.53),(126.67,-23.74),(126.73,-23.58),(126.81,-24.01),(126.90,-24.33),(126.98,-24.60),(127.07,-24.70),(127.15,-24.65),(127.24,-24.97),(127.32,-25.45),(127.41,-25.82),(127.52,-26.09),(127.61,-25.72),(127.69,-25.29),(127.78,-24.86),(127.86,-24.97),(127.94,-24.97),(128.03,-24.86),(128.11,-24.92),(128.20,-24.76),(128.28,-24.44),(128.37,-24.17),(128.45,-24.60),(128.54,-24.38),(128.62,-24.28),(128.68,-24.14),(128.77,-24.33),(128.85,-24.60),(128.94,-25.08),(129.02,-25.56),(129.11,-25.66),(129.19,-25.77),(129.28,-25.61),(129.36,-25.45),(129.45,-25.24),(129.53,-25.34),(129.61,-25.40),(129.70,-25.82),(129.78,-25.72),(129.87,-25.77),(129.95,-25.98),(130.00,-26.17)]

# ---------------- panel c ----------------
c_hol = [(0.21,5.91),(0.29,5.85),(0.37,5.73),(0.43,5.79),(0.49,5.61),(0.55,5.85),(0.63,5.91),(0.72,5.91),(0.80,5.88),(0.89,5.79),(0.97,5.88),(1.05,5.97),(1.14,6.09),(1.22,6.15),(1.31,6.03),(1.39,5.91),(1.47,5.85),(1.56,5.91),(1.64,6.03),(1.69,6.09),(1.77,6.03),(1.86,6.06),(1.94,5.94),(2.03,6.09),(2.11,6.15),(2.20,6.18),(2.28,6.24),(2.37,6.21),(2.45,6.27),(2.51,6.51),(2.57,6.54),(2.65,6.45),(2.74,6.42),(2.82,6.45),(2.91,6.48),(2.99,6.45),(3.08,6.51),(3.16,6.45),(3.25,6.42),(3.33,6.36),(3.42,6.36),(3.50,6.45),(3.59,6.51),(3.67,6.51),(3.76,6.66),(3.84,6.72),(3.93,6.75),(4.01,6.81),(4.10,6.78),(4.18,6.63),(4.26,6.60),(4.35,6.72),(4.43,6.78),(4.52,6.72),(4.60,6.66),(4.69,6.84),(4.77,6.90),(4.86,6.99),(4.94,6.93),(5.03,6.96),(5.11,6.99),(5.20,7.13),(5.28,7.04),(5.37,7.19),(5.45,7.16),(5.54,7.25),(5.62,7.31),(5.71,7.37),(5.79,7.40),(5.88,7.49),(5.96,7.55),(6.05,7.37),(6.10,7.16),(6.16,7.10),(6.22,7.34),(6.27,7.58),(6.33,7.79),(6.42,7.76),(6.50,7.73),(6.59,7.82),(6.67,7.85),(6.73,7.91),(6.81,7.85),(6.90,7.76),(6.98,7.61),(7.07,7.61),(7.15,7.64),(7.24,7.58),(7.29,7.49),(7.38,7.64),(7.46,7.67),(7.55,7.73),(7.63,7.79),(7.72,7.79),(7.80,7.76),(7.86,7.82),(7.92,7.73),(7.96,7.58),(8.02,7.67)]

c_ctl = [(115.21,3.70),(115.29,3.76),(115.40,3.79),(115.49,3.88),(115.57,3.82),(115.65,3.58),(115.71,3.43),(115.79,3.46),(115.88,3.52),(115.96,3.64),(116.05,3.76),(116.13,3.79),(116.21,3.73),(116.30,3.70),(116.41,3.73),(116.52,3.67),(116.61,3.61),(116.69,3.55),(116.77,3.58),(116.86,3.64),(116.94,3.67),(117.03,3.58),(117.11,3.58),(117.19,3.55),(117.28,3.64),(117.36,3.94),(117.44,4.06),(117.53,3.94),(117.61,3.88),(117.70,4.00),(117.78,4.18),(117.86,4.33),(117.98,4.39),(118.09,4.36),(118.17,4.39),(118.26,4.33),(118.34,4.27),(118.42,4.30),(118.51,4.48),(118.59,4.60),(118.68,4.72),(118.76,4.90),(118.84,5.04),(118.93,5.07),(119.01,4.90),(119.10,4.87),(119.18,4.96),(119.27,5.04),(119.35,4.99),(119.43,4.90),(119.52,4.96),(119.60,5.04),(119.68,5.13),(119.77,5.07),(119.88,5.07),(119.99,5.13),(120.07,5.43),(120.16,5.61),(120.24,5.67),(120.33,5.73),(120.44,5.85),(120.52,5.91),(120.61,6.00),(120.69,5.91),(120.77,5.94),(120.86,6.06),(120.94,6.03),(121.03,6.15),(121.11,6.18),(121.19,6.27),(121.28,6.39),(121.36,6.57),(121.45,6.63),(121.53,6.78),(121.61,6.81),(121.69,6.81),(121.80,6.72),(121.92,6.66),(122.03,6.57),(122.11,6.75),(122.20,6.90),(122.31,6.90),(122.40,6.99),(122.48,7.07),(122.57,7.10),(122.65,7.19),(122.74,7.22),(122.82,7.37),(122.91,7.58),(122.99,7.64),(123.08,7.52),(123.16,7.49),(123.25,7.55),(123.33,7.52),(123.42,7.37),(123.50,7.52),(123.59,7.82),(123.67,7.94),(123.75,8.00),(123.84,7.94),(123.92,7.91),(124.01,7.88),(124.09,7.91),(124.18,7.88),(124.27,7.94),(124.35,7.97),(124.43,8.00),(124.52,8.00),(124.60,8.06),(124.69,8.00),(124.77,7.82),(124.86,7.88),(124.94,8.12),(125.03,8.30),(125.11,8.12),(125.20,7.97),(125.28,7.97),(125.37,8.06),(125.45,8.18),(125.54,8.36),(125.62,8.48),(125.71,8.39),(125.79,8.24),(125.88,8.33),(125.96,8.42),(126.05,8.45),(126.13,8.51),(126.22,8.78),(126.30,8.84),(126.36,8.96),(126.44,8.78),(126.53,8.66),(126.61,8.72),(126.70,8.57),(126.78,8.48),(126.87,8.60),(126.95,8.78),(127.04,8.93),(127.12,8.87),(127.21,8.78),(127.29,8.60),(127.38,8.66),(127.46,8.78),(127.55,8.84),(127.63,8.78),(127.72,8.81),(127.80,8.75),(127.89,8.72),(127.97,8.66),(128.06,8.72),(128.14,8.72),(128.23,8.72),(128.31,8.54),(128.40,8.57),(128.48,8.63),(128.59,8.54),(128.71,8.66),(128.82,8.72),(128.94,8.72),(129.05,8.57),(129.16,8.42),(129.28,8.51),(129.39,8.60),(129.50,8.57),(129.61,8.48),(129.73,8.39),(129.84,8.36),(129.92,8.39),(130.00,8.45)]

c_x05 = [(115.21,4.21),(115.29,4.12),(115.38,4.00),(115.46,3.94),(115.54,3.82),(115.63,3.88),(115.68,3.82),(115.88,4.00),(115.96,3.91),(116.07,3.94),(116.19,3.79),(116.27,3.94),(116.38,3.88),(116.50,3.91),(116.61,4.00),(116.72,4.12),(116.80,4.18),(116.89,4.27),(117.00,4.21),(117.11,4.09),(117.22,4.15),(117.33,4.33),(117.42,4.24),(117.53,4.21),(117.64,4.24),(117.75,4.30),(117.86,4.36),(117.98,4.39),(118.09,4.36),(118.20,4.48),(118.26,5.01),(118.31,5.22),(118.40,5.25),(118.48,5.07),(118.56,5.04),(118.65,5.04),(118.76,5.01),(118.87,5.10),(118.96,5.25),(119.04,5.37),(119.12,5.49),(119.21,5.55),(119.29,5.49),(119.38,5.55),(119.46,5.67),(119.55,5.67),(119.66,5.76),(119.74,5.85),(119.82,5.73),(119.91,5.79),(119.99,5.79),(120.07,5.67),(120.16,5.85),(120.27,6.27),(120.35,6.18),(120.44,6.15),(120.55,6.21),(120.63,6.36),(120.72,6.42),(120.83,6.30),(120.92,6.33),(121.03,6.51),(121.11,6.75),(121.22,6.78),(121.33,6.87),(121.45,6.90),(121.56,6.87),(121.69,6.93),(121.77,6.99),(121.86,7.16),(121.94,7.25),(122.06,7.16),(122.17,7.28),(122.28,7.37),(122.40,7.52),(122.51,7.64),(122.62,7.67),(122.74,7.64),(122.85,7.70),(122.96,7.76),(123.08,7.73),(123.19,7.82),(123.30,7.91),(123.42,8.06),(123.53,8.12),(123.64,8.18),(123.75,8.12),(123.87,8.06),(123.98,8.09),(124.07,8.24),(124.18,8.42),(124.29,8.45),(124.41,8.33),(124.52,8.36),(124.63,8.39),(124.75,8.36),(124.86,8.48),(124.97,8.60),(125.09,8.54),(125.20,8.18),(125.31,8.42),(125.43,8.66),(125.54,8.72),(125.65,8.72),(125.76,8.84),(125.88,8.78),(125.96,8.66),(126.08,8.60),(126.19,8.72),(126.30,8.78),(126.42,8.84),(126.53,8.78),(126.64,8.84),(126.76,8.93),(126.87,9.07),(126.95,9.16),(127.04,9.07),(127.15,8.90),(127.27,8.99),(127.38,9.13),(127.46,9.01),(127.58,8.84),(127.69,8.72),(127.80,8.66),(127.92,8.66),(128.03,8.69),(128.14,8.60),(128.26,8.69),(128.37,8.81),(128.48,8.72),(128.59,8.84),(128.71,8.87),(128.82,8.96),(128.94,8.84),(129.05,8.87),(129.16,8.60),(129.28,8.69),(129.39,8.81),(129.47,8.93),(129.56,8.84),(129.67,8.63),(129.78,8.48),(129.90,8.27),(130.00,8.12)]

c_alb = [(115.21,4.30),(115.29,4.21),(115.40,4.18),(115.51,4.24),(115.63,4.33),(115.71,4.39),(115.79,4.30),(115.91,4.27),(116.02,4.18),(116.13,4.12),(116.21,4.21),(116.30,4.30),(116.41,4.24),(116.52,4.27),(116.61,4.36),(116.69,4.54),(116.77,4.78),(116.86,4.57),(116.94,4.54),(117.03,4.72),(117.11,4.81),(117.22,4.84),(117.33,4.99),(117.42,4.93),(117.50,4.90),(117.59,5.01),(117.70,5.10),(117.81,5.16),(117.92,5.13),(118.03,5.07),(118.14,5.01),(118.23,4.90),(118.31,4.87),(118.40,5.07),(118.48,5.37),(118.56,5.55),(118.65,5.61),(118.73,5.43),(118.82,5.31),(118.90,5.34),(118.98,5.49),(119.10,5.64),(119.21,5.73),(119.29,5.79),(119.38,5.85),(119.46,5.85),(119.55,5.97),(119.63,6.15),(119.71,5.91),(119.80,5.67),(119.88,5.70),(119.99,6.21),(120.10,6.39),(120.21,6.27),(120.33,6.21),(120.44,6.45),(120.55,6.57),(120.66,6.66),(120.77,6.57),(120.89,6.51),(121.00,6.75),(121.14,7.19),(121.25,7.04),(121.33,7.04),(121.45,7.34),(121.56,7.49),(121.69,7.46),(121.80,7.37),(121.92,7.46),(122.03,7.67),(122.14,7.64),(122.25,7.58),(122.37,7.70),(122.48,7.82),(122.59,8.06),(122.68,8.30),(122.76,8.39),(122.85,8.21),(122.93,8.03),(123.05,8.15),(123.16,8.21),(123.27,8.18),(123.39,8.12),(123.50,8.24),(123.61,8.45),(123.73,8.36),(123.84,8.33),(123.95,8.54),(124.07,8.42),(124.18,8.48),(124.29,8.63),(124.38,8.87),(124.46,8.84),(124.58,8.90),(124.69,8.96),(124.80,9.01),(124.89,9.01),(124.97,8.90),(125.09,8.84),(125.20,8.81),(125.28,8.87),(125.37,9.01),(125.48,8.87),(125.59,8.75),(125.68,8.93),(125.76,8.99),(125.85,8.90),(125.93,8.84),(126.05,8.99),(126.16,9.16),(126.27,9.19),(126.39,9.22),(126.50,9.28),(126.61,9.19),(126.73,9.22),(126.84,9.28),(126.95,9.37),(127.04,9.43),(127.12,9.28),(127.24,9.16),(127.35,9.22),(127.46,9.28),(127.58,9.34),(127.66,9.25),(127.75,9.04),(127.86,9.10),(127.97,9.28),(128.09,9.40),(128.20,9.43),(128.31,9.49),(128.43,9.37),(128.51,9.19),(128.59,9.25),(128.71,9.37),(128.79,9.19),(128.88,8.96),(128.99,9.04),(129.10,9.19),(129.22,8.87),(129.33,9.10),(129.45,9.22),(129.56,9.07),(129.67,9.01),(129.78,9.07),(129.87,8.99),(129.95,8.84),(130.00,8.78)]

c_ghg = [(115.21,4.15),(115.29,3.94),(115.35,3.76),(115.43,3.85),(115.51,3.94),(115.60,4.09),(115.68,3.94),(115.77,3.88),(115.85,3.76),(115.96,3.52),(116.02,3.64),(116.10,3.70),(116.19,3.76),(116.27,3.88),(116.35,3.94),(116.44,4.06),(116.52,4.15),(116.61,4.18),(116.69,4.00),(116.77,3.76),(116.86,3.85),(116.97,3.88),(117.08,3.82),(117.17,3.88),(117.25,4.06),(117.36,4.09),(117.47,4.15),(117.56,4.24),(117.67,4.18),(117.78,4.06),(117.86,4.21),(117.98,4.36),(118.09,4.39),(118.17,4.66),(118.26,4.81),(118.37,4.78),(118.45,4.66),(118.54,4.63),(118.62,4.57),(118.68,4.54),(118.76,4.78),(118.84,4.96),(118.93,5.07),(119.01,5.13),(119.10,5.25),(119.18,5.31),(119.27,5.19),(119.35,5.22),(119.43,5.37),(119.52,5.43),(119.60,5.49),(119.68,5.43),(119.77,5.49),(119.85,5.52),(119.94,5.49),(120.02,5.46),(120.10,5.61),(120.21,5.85),(120.30,5.85),(120.38,5.79),(120.47,5.91),(120.55,5.91),(120.63,5.73),(120.72,5.67),(120.83,5.85),(120.94,5.97),(121.06,6.33),(121.17,6.45),(121.25,6.45),(121.33,6.51),(121.45,6.57),(121.56,6.66),(121.69,6.80),(121.80,6.85),(121.92,6.84),(122.03,6.87),(122.11,6.81),(122.20,6.99),(122.28,7.28),(122.37,7.49),(122.45,7.31),(122.54,7.22),(122.62,7.10),(122.71,7.25),(122.79,7.31),(122.88,7.40),(122.96,7.58),(123.05,7.61),(123.13,7.61),(123.22,7.52),(123.30,7.61),(123.39,7.67),(123.47,7.73),(123.56,7.82),(123.64,7.91),(123.73,7.94),(123.81,7.88),(123.90,7.85),(123.98,7.82),(124.07,7.70),(124.15,7.79),(124.24,7.88),(124.35,8.00),(124.46,8.06),(124.58,8.06),(124.69,8.12),(124.80,8.36),(124.92,8.45),(125.03,8.36),(125.14,8.45),(125.26,8.51),(125.37,8.60),(125.45,8.57),(125.54,8.36),(125.62,8.18),(125.71,8.06),(125.79,8.15),(125.88,8.27),(125.99,8.36),(126.10,8.45),(126.22,8.42),(126.33,8.33),(126.44,8.48),(126.56,8.72),(126.64,8.84),(126.73,8.81),(126.81,8.78),(126.90,8.72),(126.98,8.54),(127.07,8.42),(127.18,8.60),(127.29,8.60),(127.38,8.57),(127.46,8.36),(127.55,8.30),(127.63,8.42),(127.72,8.60),(127.80,8.69),(127.92,8.54),(128.03,8.51),(128.14,8.72),(128.26,8.90),(128.37,8.81),(128.48,8.84),(128.59,8.87),(128.71,8.90),(128.82,8.99),(128.91,8.78),(128.99,8.60),(129.10,8.48),(129.22,8.51),(129.33,8.45),(129.45,8.54),(129.56,8.42),(129.67,8.33),(129.78,8.30),(129.90,8.18),(130.00,8.00)]

# ---------------- figure building ----------------
X0, X1 = 114.626, 130.566
FONT = "Liberation Sans"
WIDTH = 1167
BORDER_LEFT = 77


def style_axis(ax, standoff=5):
    ax.axis_line_color = "black"
    ax.axis_line_width = 2
    ax.major_tick_out = 7
    ax.major_tick_in = 0
    ax.minor_tick_out = 0
    ax.minor_tick_in = 0
    ax.major_tick_line_width = 2
    ax.major_tick_line_color = "black"
    ax.major_label_text_font = FONT
    ax.major_label_text_font_style = "bold"
    ax.major_label_text_font_size = "22px"
    ax.major_label_text_color = "black"
    ax.major_label_standoff = standoff
    ax.axis_label_text_font = FONT
    ax.axis_label_text_font_style = "bold"
    ax.axis_label_text_color = "black"


def edge_line(p, side):
    # a bare axis used only to draw the panel border line on that side
    ax = LinearAxis(ticker=FixedTicker(ticks=[]), axis_line_color="black",
                    axis_line_width=2.6, major_tick_out=0, major_tick_in=0,
                    minor_tick_out=0, minor_tick_in=0, major_label_standoff=0)
    p.add_layout(ax, side)


def make_panel(height, ylim, yticks, series, tag, tag_xy, legend_bottom,
               top=0, bottom=0, ylabel=None, top_axis=False, bottom_axis=False,
               edges=()):
    p = figure(width=WIDTH, height=height,
               x_range=Range1d(X0, X1), y_range=Range1d(*ylim),
               x_axis_location=None, y_axis_location=None,
               output_backend="svg", toolbar_location=None,
               min_border_left=BORDER_LEFT, min_border_right=0,
               min_border_top=top, min_border_bottom=bottom)
    p.extra_x_ranges = {"hol": Range1d(X0 - HOL_OFFSET, X1 - HOL_OFFSET)}
    p.center = [c for c in p.center if not isinstance(c, Grid)]
    p.outline_line_color = None
    p.background_fill_color = "white"
    p.border_fill_color = "white"

    yax = LinearAxis(ticker=FixedTicker(ticks=yticks),
                     formatter=PrintfTickFormatter(format="%d"))
    style_axis(yax, standoff=2)
    if ylabel:
        yax.axis_label = ylabel
        yax.axis_label_text_font_size = "27px"
        yax.axis_label_standoff = -1
    p.add_layout(yax, "left")

    if top_axis:
        tax = LinearAxis(x_range_name="hol", ticker=FixedTicker(ticks=hol_ticks),
                         formatter=PrintfTickFormatter(format="%d"))
        style_axis(tax, standoff=12)
        p.add_layout(tax, "above")

    if bottom_axis:
        bax = LinearAxis(ticker=FixedTicker(ticks=x_ticks),
                         formatter=PrintfTickFormatter(format="%.1f"),
                         axis_label=x_title)
        style_axis(bax, standoff=7)
        bax.axis_label_text_font_size = "27px"
        bax.axis_label_standoff = 6
        p.add_layout(bax, "below")

    for side in edges:
        edge_line(p, side)

    items = []
    for i, (name, color, data) in enumerate(zip(series_names, series_colors, series)):
        xs = [d[0] for d in data]
        ys = [d[1] for d in data]
        kw = {"x_range_name": "hol"} if i == 0 else {}
        r = p.line(xs, ys, line_color=color, line_width=2.8, **kw)
        items.append(LegendItem(label=name, renderers=[r]))

    legend = Legend(items=items, location=(24, legend_bottom),
                    glyph_width=50, glyph_height=32, label_height=32,
                    spacing=0, padding=0, margin=0, label_standoff=24,
                    label_text_font=FONT, label_text_font_size="26.5px",
                    label_text_color="black",
                    background_fill_alpha=0, border_line_alpha=0)
    p.add_layout(legend)

    p.add_layout(Label(x=tag_xy[0], y=tag_xy[1], x_units="screen", y_units="screen",
                       text=tag, text_font="Open Sans", text_font_size="28px",
                       text_color="black", text_baseline="alphabetic"))
    return p


pa = make_panel(551, (-12.645, -4.589), a_yticks, [a_hol, a_ctl, a_x05, a_alb, a_ghg],
                "a)", (20, 32), 328, top=47, top_axis=True, edges=("below",))
pb = make_panel(505, (-28.35, -20.254), b_yticks, [b_hol, b_ctl, b_x05, b_alb, b_ghg],
                "b)", (22, 34), 337, ylabel=y_title, edges=("above", "below"))
pc = make_panel(576, (2.452, 10.521), c_yticks, [c_hol, c_ctl, c_x05, c_alb, c_ghg],
                "c)", (20, 32), 327, bottom=72, bottom_axis=True, edges=("above",))

layout = column(pa, pb, pc, spacing=0)
open("out.html", "w").write(file_html(layout, INLINE))
